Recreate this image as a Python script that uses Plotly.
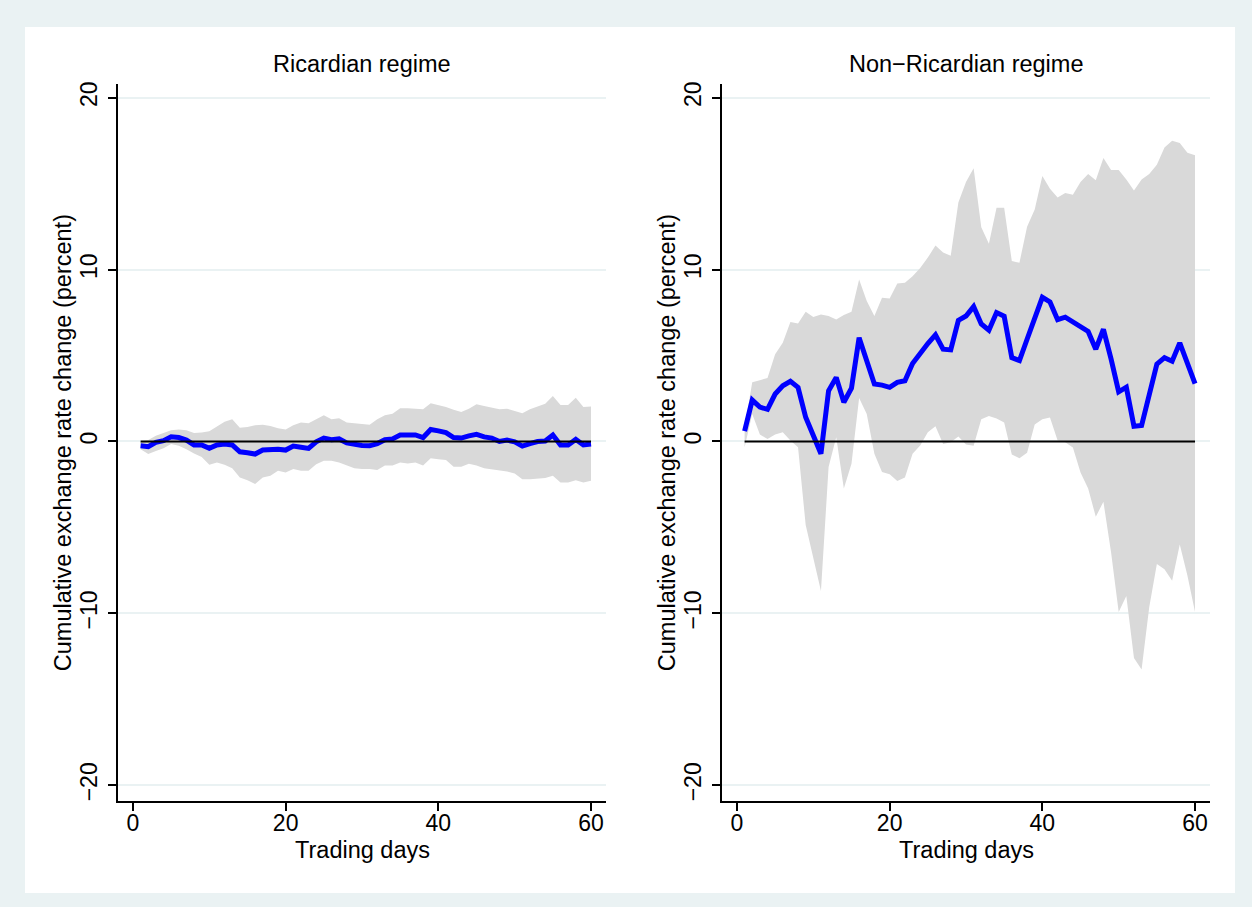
import plotly.graph_objects as go

# ---------------- data ----------------
days = list(range(1, 61))

ric_irf = [-0.25, -0.3, -0.05, 0.05, 0.27, 0.23, 0.08, -0.2, -0.2, -0.4,
           -0.2, -0.15, -0.2, -0.6, -0.65, -0.73, -0.5, -0.45, -0.45, -0.5,
           -0.27, -0.33, -0.4, -0.02, 0.2, 0.1, 0.15, -0.08, -0.17, -0.23,
           -0.25, -0.12, 0.1, 0.15, 0.38, 0.37, 0.38, 0.23, 0.7, 0.62,
           0.52, 0.23, 0.2, 0.33, 0.42, 0.27, 0.2, 0.0, 0.08, -0.02,
           -0.27, -0.12, 0.0, 0.03, 0.38, -0.2, -0.2, 0.12, -0.2, -0.15]
ric_upper = [0.0, 0.08, 0.33, 0.5, 0.65, 0.7, 0.65, 0.5, 0.52, 0.6,
             0.9, 1.15, 1.3, 0.8, 0.85, 0.95, 0.97, 0.9, 0.77, 0.7,
             0.95, 1.1, 1.06, 1.3, 1.53, 1.3, 1.35, 1.1, 1.05, 1.03,
             0.97, 1.3, 1.53, 1.62, 1.93, 1.93, 1.91, 1.88, 2.22, 2.13,
             2.0, 1.84, 1.72, 1.9, 2.17, 2.07, 1.97, 1.88, 1.91, 1.78,
             1.64, 1.88, 2.03, 2.2, 2.65, 2.13, 2.13, 2.55, 2.0, 2.03]
ric_lower = [-0.45, -0.73, -0.55, -0.4, -0.15, -0.25, -0.45, -0.7, -0.9, -1.35,
             -1.22, -1.35, -1.55, -2.1, -2.25, -2.48, -2.1, -2.0, -1.7, -1.8,
             -1.6, -1.7, -1.7, -1.32, -1.12, -1.12, -1.22, -1.4, -1.55, -1.6,
             -1.6, -1.66, -1.4, -1.4, -1.22, -1.28, -1.22, -1.4, -0.97, -1.03,
             -1.08, -1.47, -1.47, -1.3, -1.4, -1.55, -1.6, -1.66, -1.74, -1.86,
             -2.19, -2.19, -2.15, -2.13, -2.0, -2.38, -2.38, -2.25, -2.38, -2.28]

nonric_irf = [0.6, 2.41, 2.0, 1.87, 2.76, 3.24, 3.5, 3.15, 1.41, 0.25,
              -0.71, 2.95, 3.73, 2.28, 3.1, 6.04, 4.73, 3.34, 3.28, 3.15,
              3.44, 3.53, 4.54, 5.17, 5.7, 6.2, 5.37, 5.33, 7.05, 7.3,
              7.85, 6.84, 6.47, 7.5, 7.29, 4.88, 4.71, 5.95, 7.19, 8.39,
              8.12, 7.09, 7.23, 6.98, 6.71, 6.4, 5.37, 6.53, 4.81, 2.89,
              3.16, 0.89, 0.93, 2.75, 4.5, 4.88, 4.67, 5.74, 4.5, 3.37]
nonric_upper = [0.83, 3.44, 3.57, 3.69, 5.08, 5.75, 6.95, 6.87, 7.55, 7.24,
                7.39, 7.3, 7.1, 7.36, 7.55, 9.42, 8.17, 7.3, 8.36, 8.32,
                9.19, 9.23, 9.61, 10.1, 10.7, 11.4, 11.0, 10.8, 13.9, 15.1,
                15.9, 12.46, 11.5, 13.6, 13.6, 10.5, 10.4, 12.5, 13.5, 15.45,
                14.7, 14.2, 14.46, 14.36, 15.1, 15.56, 15.2, 16.5, 15.8, 15.8,
                15.25, 14.6, 15.25, 15.56, 16.1, 17.1, 17.5, 17.36, 16.8, 16.65]
nonric_lower = [-0.33, 1.6, 0.4, 0.15, 0.4, 0.54, 0.06, -0.33, -4.86, -6.8,
                -8.7, -1.49, 0.25, -2.74, -1.3, 2.53, 1.6, -0.71, -1.78, -1.91,
                -2.3, -2.1, -0.71, -0.23, 0.54, 0.89, -0.14, -0.04, 0.29, -0.17,
                -0.25, 1.3, 1.49, 1.34, 1.1, -0.76, -0.97, -0.66, 0.99, 1.3,
                1.4, 0.06, -0.04, -0.35, -1.8, -2.73, -4.38, -3.51, -6.45, -9.92,
                -8.99, -12.6, -13.26, -9.64, -7.13, -7.44, -8.1, -5.99, -7.79, -9.92]

zero_line = [0.0] * len(days)

panel_titles = ["Ricardian regime", "Non\u2212Ricardian regime"]
y_title = "Cumulative exchange rate change (percent)"
x_title = "Trading days"
y_ticks = [-20, -10, 0, 10, 20]
y_ticklabels = ["\u221220", "\u221210", "0", "10", "20"]
x_ticks = [0, 20, 40, 60]

# ---------------- figure ----------------
W, H = 1252, 907
FONT = "Liberation Sans, Arial, Helvetica, sans-serif"
BAND = "#d9d9d9"
BG = "#eaf2f3"

fig = go.Figure()

panels = [
    ("x", "y", ric_irf, ric_upper, ric_lower),
    ("x2", "y2", nonric_irf, nonric_upper, nonric_lower),
]
for xa, ya, irf, up, lo in panels:
    fig.add_trace(go.Scatter(x=days, y=up, mode="lines", line=dict(width=0, color=BAND),
                             xaxis=xa, yaxis=ya, showlegend=False, hoverinfo="skip"))
    fig.add_trace(go.Scatter(x=days, y=lo, mode="lines", line=dict(width=0, color=BAND),
                             fill="tonexty", fillcolor=BAND,
                             xaxis=xa, yaxis=ya, showlegend=False, hoverinfo="skip"))
    fig.add_trace(go.Scatter(x=days, y=irf, mode="lines", line=dict(width=5, color="#0000ff"),
                             xaxis=xa, yaxis=ya, showlegend=False))
    fig.add_trace(go.Scatter(x=days, y=zero_line, mode="lines", line=dict(width=2, color="black"),
                             xaxis=xa, yaxis=ya, showlegend=False, hoverinfo="skip"))

def px_x(p):
    return p / W

def px_y(p):
    return 1 - p / H

plot_top, plot_bot = 82, 801
left_dom = [px_x(117.7), px_x(606.3)]
right_dom = [px_x(721.7), px_x(1210.3)]
ydom = [px_y(plot_bot), px_y(plot_top)]

axis_common = dict(showline=True, linecolor="black", linewidth=1.5,
                   ticks="outside", ticklen=8, tickwidth=1.5, tickcolor="black",
                   tickfont=dict(family=FONT, size=23, color="black"),
                   zeroline=False)

xcfg = dict(axis_common, range=[-2.0, 62.0], tickvals=x_ticks, showgrid=False,
            ticklabelstandoff=-8)
ycfg = dict(axis_common, range=[-20.93, 20.81], tickvals=y_ticks, ticktext=y_ticklabels,
            tickangle=-90, showgrid=True, gridcolor=BG, gridwidth=2, ticklabelstandoff=2)

fig.update_layout(
    width=W, height=H,
    margin=dict(l=0, r=0, t=0, b=0),
    paper_bgcolor=BG, plot_bgcolor="white",
    xaxis=dict(xcfg, domain=left_dom, anchor="y"),
    yaxis=dict(ycfg, domain=ydom, anchor="x"),
    xaxis2=dict(xcfg, domain=right_dom, anchor="y2"),
    yaxis2=dict(ycfg, domain=ydom, anchor="x2"),
    shapes=[dict(type="rect", xref="paper", yref="paper",
                 x0=px_x(25), x1=px_x(1235), y0=px_y(893), y1=px_y(25),
                 fillcolor="white", line=dict(width=0), layer="below")],
    font=dict(family=FONT, color="black"),
)

annos = []
for i, dom in enumerate([left_dom, right_dom]):
    cx = (dom[0] + dom[1]) / 2
    annos.append(dict(text=panel_titles[i], x=cx, y=px_y(62), xref="paper", yref="paper",
                      showarrow=False, xanchor="center", yanchor="middle",
                      font=dict(family=FONT, size=23.5, color="black")))
    annos.append(dict(text=x_title, x=cx, y=px_y(850), xref="paper", yref="paper",
                      showarrow=False, xanchor="center", yanchor="middle",
                      font=dict(family=FONT, size=23.5, color="black")))
    ax_left = dom[0] * W
    annos.append(dict(text=y_title, x=px_x(ax_left - 55), y=px_y(441.5), xref="paper", yref="paper",
                      showarrow=False, xanchor="center", yanchor="middle", textangle=-90,
                      font=dict(family=FONT, size=23.5, color="black")))
fig.update_layout(annotations=annos)

fig.write_html("out.html", config={"displayModeBar": False},
               post_script="document.body.style.margin='0';")
